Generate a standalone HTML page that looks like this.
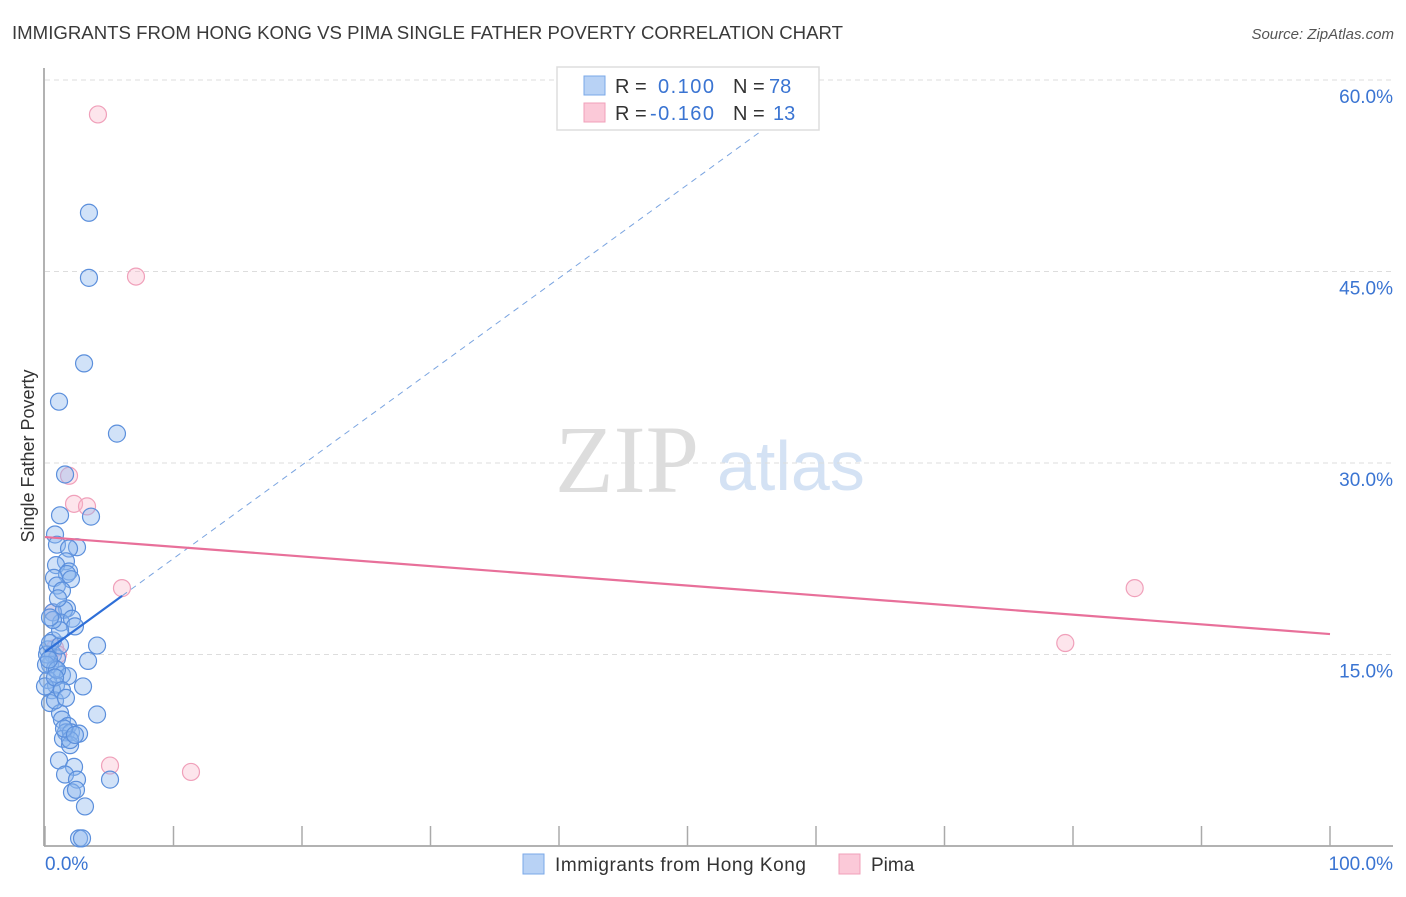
<!DOCTYPE html>
<html><head><meta charset="utf-8"><style>
body{margin:0;background:#fff;font-family:"Liberation Sans",sans-serif;}
svg text{font-family:"Liberation Sans",sans-serif;}
</style></head><body>
<svg id="chart" width="1406" height="892">
<text x="12" y="39" font-size="18" fill="#3a3a3a" textLength="831" lengthAdjust="spacingAndGlyphs">IMMIGRANTS FROM HONG KONG VS PIMA SINGLE FATHER POVERTY CORRELATION CHART</text>
<text x="1394" y="39" font-size="15" fill="#555" font-style="italic" text-anchor="end">Source: ZipAtlas.com</text>
<text transform="translate(34,456) rotate(-90)" font-size="18" fill="#333" text-anchor="middle">Single Father Poverty</text>
<g><text x="555" y="492" font-size="96" fill="#ddd" font-family="Liberation Serif" style="font-family:'Liberation Serif',serif">ZIP</text><text x="717" y="490" font-size="70" fill="#d4e2f4">atlas</text></g>
<g id="grid"></g><g id="axes"></g><g id="marks"></g>
<g>
<rect x="557" y="67" width="262" height="63" fill="#fff" stroke="#ddd" stroke-width="1.5"/>
<rect x="584" y="76" width="21" height="19" fill="#b8d2f5" stroke="#7aa8e8"/>
<rect x="584" y="103" width="21" height="19" fill="#fbc9d8" stroke="#f0a0ba"/>
<text x="615" y="93" font-size="20" fill="#333">R = </text><text x="658" y="93" font-size="20" fill="#3a74d2" textLength="56">0.100</text>
<text x="733" y="93" font-size="20" fill="#333">N = </text><text x="769" y="93" font-size="20" fill="#3a74d2">78</text>
<text x="615" y="120" font-size="20" fill="#333">R = </text><text x="650" y="120" font-size="20" fill="#3a74d2" textLength="64">-0.160</text>
<text x="733" y="120" font-size="20" fill="#333">N = </text><text x="773" y="120" font-size="20" fill="#3a74d2">13</text>
</g>
<g>
<rect x="523" y="854" width="21" height="20" fill="#b8d2f5" stroke="#7aa8e8"/>
<text x="555" y="871" font-size="19" fill="#333" textLength="251">Immigrants from Hong Kong</text>
<rect x="839" y="854" width="21" height="20" fill="#fbc9d8" stroke="#f0a0ba"/>
<text x="871" y="871" font-size="19" fill="#333">Pima</text>
</g>
</svg>
<script>
const blueX=[3.42,3.42,3.04,1.09,5.6,1.56,1.17,3.58,0.78,0.93,2.49,1.87,1.63,0.86,1.87,1.71,0.70,2.02,0.93,1.32,1.71,0.62,1.48,1.25,2.10,2.33,4.05,0.23,0.62,0.93,3.35,0.39,0.78,1.32,1.79,0.23,0.86,2.96,0.54,0.39,4.05,1.17,1.32,1.79,1.63,1.40,2.02,2.65,1.95,1.09,2.26,1.56,2.49,5.06,2.10,2.41,3.11,2.65,2.88,0.62,0.16,0.39,1.17,0.78,1.17,1.01,0.08,1.95,1.48,2.33,0.62,0.39,0.93,0,0.78,1.32,1.63,0.31];
const blueY=[49.6,44.5,37.8,34.8,32.3,29.1,25.9,25.8,24.4,23.6,23.4,23.3,22.3,22.0,21.5,21.3,21.0,20.9,20.4,20.0,18.6,18.3,18.5,17.5,17.8,17.2,15.7,15.4,15.0,14.7,14.5,14.2,13.9,13.4,13.3,13.0,12.6,12.5,12.2,11.2,10.3,10.4,9.9,9.4,8.9,8.4,8.9,8.8,7.9,6.7,6.2,5.6,5.2,5.2,4.2,4.4,3.1,0.6,0.6,16.1,15.0,15.9,15.7,11.4,16.9,19.4,14.2,8.3,9.2,8.7,17.7,17.9,13.8,12.5,13.2,12.2,11.6,14.6];
const pinkX=[4.12,7.08,1.87,2.26,3.27,5.99,84.8,79.4,5.06,11.36,0.62,0.78,1.01];
const pinkY=[57.3,44.6,29.0,26.8,26.6,20.2,20.2,15.9,6.3,5.8,18.3,15.5,15.0];
const yTicks=[15,30,45,60];
const yTickLabels=["15.0%","30.0%","45.0%","60.0%"];
const xTicks=[0,10,20,30,40,50,60,70,80,90,100];
const blueTrend=[15.2,0.732];
const pinkTrend=[24.2,16.6];
const NS="http://www.w3.org/2000/svg";
const X=v=>45+v*12.85, Y=v=>846-v*12.767;
function mk(tag,attrs,parent){const e=document.createElementNS(NS,tag);for(const k in attrs)e.setAttribute(k,attrs[k]);parent.appendChild(e);return e;}
const grid=document.getElementById('grid'),axes=document.getElementById('axes'),marks=document.getElementById('marks');
yTicks.forEach((t,i)=>{
 const l=mk('line',{x1:45,x2:1393,y1:Y(t),y2:Y(t),stroke:'#ddd','stroke-dasharray':'5,4'},grid);
 
 
 const tx=mk('text',{x:1393,y:Y(t)+23,'font-size':19,fill:'#3a74d2','text-anchor':'end'},axes);
 tx.textContent=yTickLabels[i];
 
 
});
mk('line',{x1:44,x2:44,y1:68,y2:846,stroke:'#999','stroke-width':1.5},axes);
mk('line',{x1:44,x2:1393,y1:846,y2:846,stroke:'#999','stroke-width':1.5},axes);
xTicks.forEach(t=>{const l=mk('line',{x1:X(t),x2:X(t),y1:826,y2:846,stroke:'#aaa','stroke-width':1.5},axes);
 
 });
const x0=mk('text',{x:45,y:870,'font-size':19,fill:'#3a74d2'},axes);x0.textContent='0.0%';


const x1=mk('text',{x:1393,y:870,'font-size':19,fill:'#3a74d2','text-anchor':'end'},axes);x1.textContent='100.0%';


pinkX.forEach((v,i)=>{const c=mk('circle',{cx:X(v),cy:Y(pinkY[i]),r:8.5,fill:'rgba(248,180,200,0.35)',stroke:'#f0a0ba','stroke-width':1.2},marks);
 
 });
blueX.forEach((v,i)=>{const c=mk('circle',{cx:X(v),cy:Y(blueY[i]),r:8.5,fill:'rgba(140,182,238,0.4)',stroke:'#5b8fdc','stroke-width':1.2},marks);
 
 });
const bd=mk('line',{x1:X(6),y1:Y(blueTrend[0]+blueTrend[1]*6),x2:X(56.4),y2:Y(blueTrend[0]+blueTrend[1]*56.4),stroke:'#7aa4e0','stroke-width':1,'stroke-dasharray':'6,5'},marks);


const bs=mk('line',{x1:X(0),y1:Y(blueTrend[0]),x2:X(6),y2:Y(blueTrend[0]+blueTrend[1]*6),stroke:'#2e6fd8','stroke-width':2.2},marks);


const pl=mk('line',{x1:X(0),y1:Y(pinkTrend[0]),x2:X(100),y2:Y(pinkTrend[1]),stroke:'#e8709a','stroke-width':2.2},marks);


</script>
</body></html>
